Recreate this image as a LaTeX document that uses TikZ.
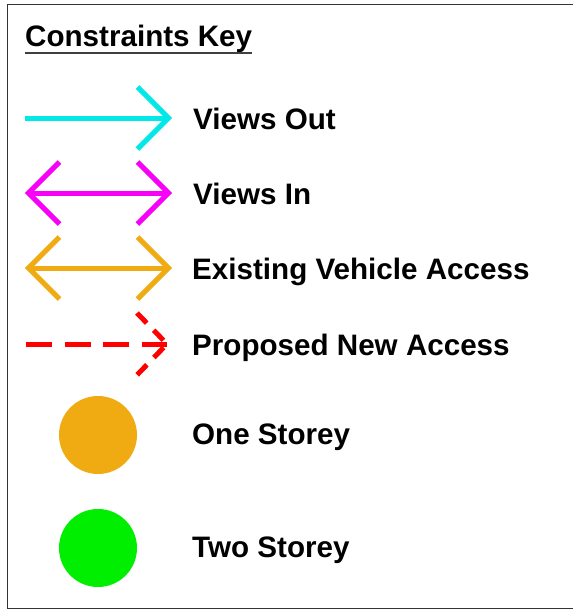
\documentclass[tikz,border=0pt]{standalone}
\usepackage{fontspec}
\setmainfont{Liberation Sans}
\definecolor{kcyan}{HTML}{00E8E8}
\definecolor{kmag}{HTML}{F800F8}
\definecolor{korange}{HTML}{F0AB12}
\definecolor{kred}{HTML}{FF0000}
\definecolor{kgreen}{HTML}{00EE00}
\begin{document}
\begin{tikzpicture}[x=1pt,y=-1pt,
  keyline/.style={line width=5pt,line join=miter},
  keytext/.style={anchor=base west,inner sep=0pt,font=\bfseries\fontsize{29.6}{32}\selectfont},
  keydot/.style={circle,minimum size=78pt,inner sep=0pt}]
\useasboundingbox (0,0) rectangle (573,611);
% frame (right edge lies outside the picture)
\draw[line width=1.4pt,black!80] (580,4.5) -- (7.5,4.5) -- (7.5,608.5) -- (580,608.5);
% title
\node[keytext] (title) at (25,46) {Constraints Key};
\draw[line width=1.5pt,black!75] ([yshift=-7pt]title.base west) -- ([yshift=-7pt]title.base east);
% Views Out
\coordinate (vo-s) at (25,118);
\coordinate (vo-e) at (168.5,118);
\draw[keyline,kcyan] (vo-s) -- (vo-e);
\draw[keyline,kcyan] ([shift={(-31,-31)}]vo-e) -- (vo-e) -- ([shift={(-31,31)}]vo-e);
\node[keytext] (vo) at (193,129.5) {Views Out};
% Views In
\coordinate (vi-s) at (28.5,193);
\coordinate (vi-e) at (168.5,193);
\draw[keyline,kmag] (vi-s) -- (vi-e);
\draw[keyline,kmag] ([shift={(-31,-31)}]vi-e) -- (vi-e) -- ([shift={(-31,31)}]vi-e);
\draw[keyline,kmag] ([shift={(31,-31)}]vi-s) -- (vi-s) -- ([shift={(31,31)}]vi-s);
\node[keytext] (vi) at (193,204.5) {Views In};
% Existing Vehicle Access
\coordinate (ev-s) at (28.5,268);
\coordinate (ev-e) at (168.5,268);
\draw[keyline,korange] (ev-s) -- (ev-e);
\draw[keyline,korange] ([shift={(-31,-31)}]ev-e) -- (ev-e) -- ([shift={(-31,31)}]ev-e);
\draw[keyline,korange] ([shift={(31,-31)}]ev-s) -- (ev-s) -- ([shift={(31,31)}]ev-s);
\node[keytext] (ev) at (192,279.5) {Existing Vehicle Access};
% Proposed New Access
\coordinate (pn-s) at (26,344);
\coordinate (pn-e) at (167,344);
\draw[keyline,kred,dash pattern=on 26pt off 12.5pt] (pn-s) -- (pn-e);
\draw[keyline,kred,dash pattern=on 14pt off 10pt] ([shift={(-30,-31)}]pn-e) -- (pn-e) -- ([shift={(-30,31)}]pn-e);
\node[keytext] (pn) at (192,355) {Proposed New Access};
% storeys
\node[keydot,fill=korange] (one) at (98,435) {};
\node[keytext] (onet) at (192,444) {One Storey};
\node[keydot,fill=kgreen] (two) at (98,548) {};
\node[keytext] (twot) at (192,557) {Two Storey};
\end{tikzpicture}
\end{document}
